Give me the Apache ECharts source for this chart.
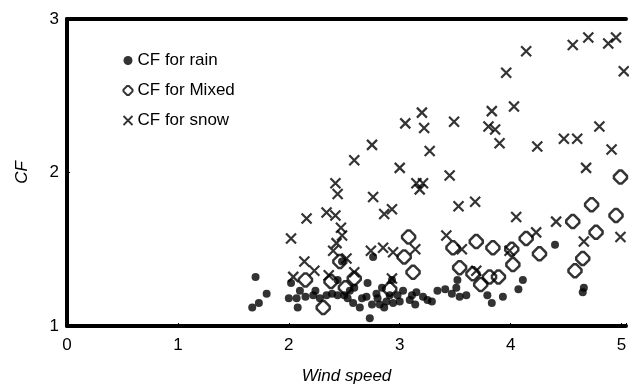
<!DOCTYPE html>
<html>
<head>
<meta charset="utf-8">
<script src="https://cdn.jsdelivr.net/npm/echarts@6/dist/echarts.min.js"></script>
<style>
  html, body { margin: 0; padding: 0; background: #fff; }
  #chart { width: 629px; height: 389px; }
</style>
</head>
<body>
<div id="chart"></div>
<script>
// [wind speed, CF]
const rainPoints = [
  [1.70, 1.32], [1.67, 1.12], [1.73, 1.15], [1.80, 1.21], [2.02, 1.28], [2.00, 1.18],
  [2.07, 1.18], [2.08, 1.12], [2.22, 1.20], [2.28, 1.18], [2.34, 1.20], [2.39, 1.21],
  [2.44, 1.20], [2.50, 1.20], [2.44, 1.30], [2.59, 1.25], [2.53, 1.18], [2.58, 1.15],
  [2.64, 1.12], [2.66, 1.18], [2.71, 1.28], [2.70, 1.19], [2.73, 1.05], [2.76, 1.45],
  [2.79, 1.21], [2.84, 1.25], [2.93, 1.30], [2.80, 1.18], [2.82, 1.14], [2.86, 1.12],
  [2.88, 1.16], [2.94, 1.15], [3.00, 1.16], [3.03, 1.23], [3.09, 1.17], [3.11, 1.20],
  [3.15, 1.22], [3.21, 1.19], [3.25, 1.17], [3.29, 1.16], [3.34, 1.23], [3.41, 1.24],
  [3.52, 1.30], [3.51, 1.25], [3.54, 1.19], [3.60, 1.20], [3.79, 1.20], [3.83, 1.15],
  [3.93, 1.19], [4.07, 1.24], [4.11, 1.30], [4.40, 1.53], [4.66, 1.25], [4.65, 1.22],
  [2.48, 1.42], [2.15, 1.19], [2.91, 1.20], [2.10, 1.23], [2.24, 1.23], [2.75, 1.14],
  [2.98, 1.20], [2.55, 1.23], [3.14, 1.14], [3.47, 1.21]
];

const mixedPoints = [
  [2.15, 1.30], [2.31, 1.12], [2.38, 1.29], [2.46, 1.42], [2.51, 1.25], [2.59, 1.31],
  [2.91, 1.24], [3.04, 1.45], [3.08, 1.58], [3.12, 1.35], [3.48, 1.51], [3.54, 1.38],
  [3.66, 1.34], [3.69, 1.55], [3.73, 1.27], [3.81, 1.32], [3.89, 1.32], [3.84, 1.51],
  [4.01, 1.50], [4.02, 1.40], [4.14, 1.57], [4.26, 1.47], [4.56, 1.68], [4.58, 1.36],
  [4.65, 1.44], [4.73, 1.79], [4.77, 1.61], [4.95, 1.72], [4.99, 1.97]
];

const snowPoints = [
  [2.02, 1.57], [2.14, 1.42], [2.04, 1.32], [2.23, 1.36], [2.36, 1.33], [2.40, 1.49],
  [2.43, 1.54], [2.16, 1.70], [2.34, 1.74], [2.42, 1.72], [2.42, 1.93], [2.44, 1.86],
  [2.47, 1.64], [2.48, 1.59], [2.52, 1.44], [2.59, 1.35], [2.59, 2.08], [2.75, 2.18],
  [2.76, 1.84], [2.86, 1.73], [2.93, 1.76], [2.74, 1.49], [2.85, 1.51], [2.94, 1.48],
  [2.93, 1.31], [3.00, 2.03], [3.05, 2.32], [3.20, 2.39], [3.22, 2.29], [3.27, 2.14],
  [3.15, 1.93], [3.18, 1.89], [3.14, 1.50], [3.21, 1.93], [3.45, 1.98], [3.49, 2.33],
  [3.53, 1.78], [3.68, 1.81], [3.42, 1.59], [3.56, 1.50], [3.69, 1.36], [3.83, 2.40],
  [4.03, 2.43], [3.80, 2.30], [3.86, 2.28], [3.90, 2.19], [3.96, 2.65], [4.14, 2.79],
  [3.99, 1.49], [4.05, 1.71], [4.23, 1.61], [4.24, 2.17], [4.41, 1.68], [4.48, 2.22],
  [4.60, 2.22], [4.56, 2.83], [4.70, 2.88], [4.88, 2.84], [4.95, 2.88], [5.02, 2.66],
  [4.80, 2.30], [4.91, 2.15], [4.68, 2.03], [4.66, 1.55], [4.99, 1.58]
];

const xTicks = [0, 1, 2, 3, 4, 5];
const yTicks = [1, 2, 3];

const chart = echarts.init(document.getElementById("chart"));

const font = "Liberation Sans, Arial, sans-serif";
const crossPath = "path://M0,0L10,10M10,0L0,10";
const diamondPath = "path://M4,0L6,0L10,4L10,6L6,10L4,10L0,6L0,4Z";

const intLabel = (v) => (xTicks.includes(v) ? String(v) : "");

const option = {
  animation: false,
  backgroundColor: "#fff",
  grid: { left: 67, right: 3, top: 19, bottom: 63, outerBoundsMode: "none", containLabel: false },
  legend: {
    orient: "vertical",
    left: 116,
    top: 47,
    itemGap: 13,
    itemWidth: 9,
    itemHeight: 9,
    textStyle: { fontFamily: font, fontSize: 17, color: "#000" },
    data: [
      { name: "CF for rain", icon: "circle", itemStyle: { color: "#000", borderWidth: 0 } },
      { name: "CF for Mixed", icon: diamondPath, itemStyle: { color: "#fff", borderColor: "#000", borderWidth: 2 } },
      { name: "CF for snow", icon: crossPath, itemStyle: { color: "none", borderColor: "#000", borderWidth: 1.8 } }
    ]
  },
  xAxis: [
    {
      type: "value",
      min: 0,
      max: 5.04,
      interval: 1,
      name: "Wind speed",
      nameLocation: "middle",
      nameGap: 42,
      nameTextStyle: { fontFamily: font, fontSize: 17, fontStyle: "italic", color: "#000" },
      axisLine: { lineStyle: { color: "#000", width: 4 } },
      axisTick: { show: true, inside: true, length: 3, lineStyle: { color: "#000" } },
      axisLabel: { formatter: intLabel, fontFamily: font, fontSize: 17, color: "#000", margin: 11 },
      splitLine: { show: false }
    },
    {
      type: "value",
      position: "top",
      min: 0,
      max: 5.04,
      interval: 1,
      axisLine: { lineStyle: { color: "#000", width: 4 } },
      axisTick: { show: false },
      axisLabel: { show: false },
      splitLine: { show: false }
    }
  ],
  yAxis: [
    {
      type: "value",
      min: 1,
      max: 3,
      interval: 1,
      name: "CF",
      nameLocation: "middle",
      nameGap: 36,
      nameTextStyle: { fontFamily: font, fontSize: 17, fontStyle: "italic", color: "#000" },
      axisLine: { show: true, lineStyle: { color: "#000", width: 4 } },
      axisTick: { show: true, inside: true, length: 3, lineStyle: { color: "#000" } },
      axisLabel: { fontFamily: font, fontSize: 17, color: "#000", margin: 8 },
      splitLine: { show: false }
    },
    {
      type: "value",
      position: "right",
      min: 1,
      max: 3,
      interval: 1,
      axisLine: { show: true, lineStyle: { color: "#000", width: 1.5 } },
      axisTick: { show: false },
      axisLabel: { show: false },
      splitLine: { show: false }
    }
  ],
  series: [
    {
      name: "CF for rain",
      type: "scatter",
      symbol: "circle",
      symbolSize: 8,
      itemStyle: { color: "#000" },
      data: rainPoints
    },
    {
      name: "CF for Mixed",
      type: "scatter",
      symbol: diamondPath,
      symbolSize: 13,
      itemStyle: { color: "none", borderColor: "#000", borderWidth: 2.5 },
      data: mixedPoints
    },
    {
      name: "CF for snow",
      type: "scatter",
      symbol: crossPath,
      symbolSize: 10,
      itemStyle: { color: "none", borderColor: "#000", borderWidth: 2.2 },
      data: snowPoints
    }
  ]
};

chart.setOption(option);
</script>
</body>
</html>
